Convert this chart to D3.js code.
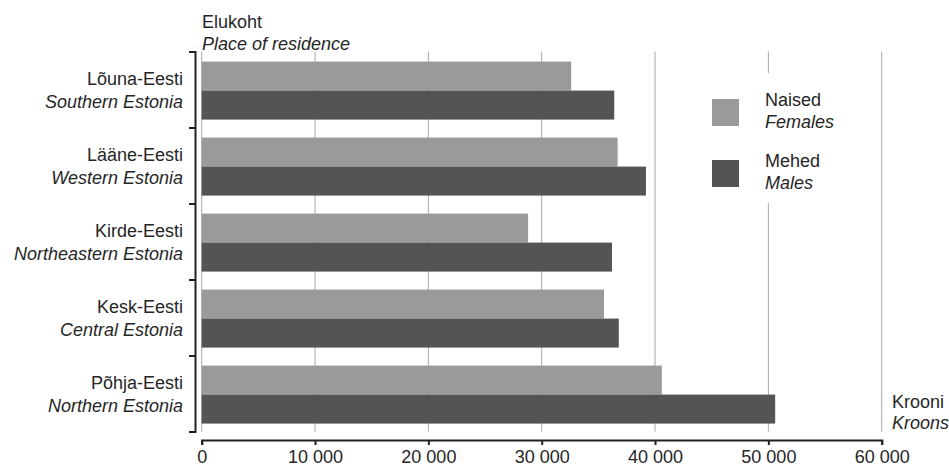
<!DOCTYPE html>
<html>
<head>
<meta charset="utf-8">
<script src="https://cdn.jsdelivr.net/npm/d3@7"></script>
<style>
  html, body { margin: 0; padding: 0; background: #fff; }
  svg { display: block; }
  text { font-family: "Liberation Sans", Arial, sans-serif; fill: #262626; }
</style>
</head>
<body>
<svg id="chart" width="949" height="466"></svg>
<script>
// ---- data ----
const categoriesEt = ["Lõuna-Eesti", "Lääne-Eesti", "Kirde-Eesti", "Kesk-Eesti", "Põhja-Eesti"];
const categoriesEn = ["Southern Estonia", "Western Estonia", "Northeastern Estonia", "Central Estonia", "Northern Estonia"];
const females = [32600, 36700, 28800, 35500, 40600];
const males   = [36400, 39200, 36200, 36800, 50600];
const seriesKeys = ["f", "m"];
const seriesEt = ["Naised", "Mehed"];
const seriesEn = ["Females", "Males"];
const xTicks = [0, 10000, 20000, 30000, 40000, 50000, 60000];
const yTitleEt = "Elukoht", yTitleEn = "Place of residence";
const unitEt = "Krooni", unitEn = "Kroons";

// ---- layout ----
const colors = { f: "#9a9a9a", m: "#545454" };
const svg = d3.select("#chart");
const x0 = 201.7, x1 = 881.7, yTop = 51.5, yBot = 431.5;

const x = d3.scaleLinear().domain([0, 60000]).range([x0, x1]);
const y = d3.scaleBand().domain(categoriesEt).range([yTop, yBot])
  .paddingInner(18 / 76).paddingOuter(9 / 76).align(0.56);
const ySub = d3.scaleBand().domain(seriesKeys).range([0, y.bandwidth()]).padding(0);
const yEdge = d3.scaleLinear().domain([0, categoriesEt.length]).range([yTop, yBot]);

const fmt = d3.formatLocale({ decimal: ",", thousands: " ", grouping: [3], currency: ["", ""] }).format(",");

// gridlines
svg.append("g").selectAll("line").data(xTicks).join("line")
  .attr("x1", d => x(d)).attr("x2", d => x(d))
  .attr("y1", yTop).attr("y2", yBot)
  .attr("stroke", "#a8a8a8").attr("stroke-width", 1);

// bars
const rows = categoriesEt.map((c, i) => ({ cat: c, f: females[i], m: males[i] }));
const gRows = svg.append("g").selectAll("g").data(rows).join("g")
  .attr("transform", d => `translate(0,${y(d.cat)})`);
gRows.selectAll("rect").data(d => seriesKeys.map(k => ({ k, v: d[k] }))).join("rect")
  .attr("x", x(0))
  .attr("y", d => ySub(d.k))
  .attr("width", d => x(d.v) - x(0))
  .attr("height", ySub.bandwidth())
  .attr("fill", d => colors[d.k]);

// legend (white backdrop hides gridline)
const lg = svg.append("g");
lg.append("rect").attr("x", 700).attr("y", 73).attr("width", 165).attr("height", 130).attr("fill", "#fff");
const legendY = [99, 160];
seriesKeys.forEach((k, i) => {
  lg.append("rect").attr("x", 712).attr("y", legendY[i]).attr("width", 27).attr("height", 27).attr("fill", colors[k]);
  lg.append("text").attr("x", 765).attr("y", legendY[i] + 6.5).style("font-size", "18px").text(seriesEt[i]);
  lg.append("text").attr("x", 765).attr("y", legendY[i] + 28.5).style("font-size", "18px").style("font-style", "italic").text(seriesEn[i]);
});

// y axis (bracket-like ticks at category boundaries)
const yAxis = d3.axisLeft(yEdge).tickValues(d3.range(categoriesEt.length + 1))
  .tickSize(6).tickSizeOuter(6).tickFormat("");
svg.append("g").attr("transform", "translate(195,0)").call(yAxis)
  .call(g => g.selectAll("path,line").attr("stroke", "#222").attr("stroke-width", 2));

// category labels
const catLab = svg.append("g").selectAll("g").data(categoriesEt).join("g")
  .attr("transform", d => `translate(183,${y(d) - 9 + 76 / 2})`);
catLab.append("text").attr("text-anchor", "end").attr("y", -6).style("font-size", "18px").text(d => d);
catLab.append("text").attr("text-anchor", "end").attr("y", 17).style("font-size", "18px")
  .style("font-style", "italic").text((d, i) => categoriesEn[i]);

// x axis
const xAxis = d3.axisBottom(x).tickValues(xTicks).tickSize(5).tickSizeOuter(5).tickPadding(5).tickFormat(fmt);
svg.append("g").attr("transform", "translate(0,440)").call(xAxis)
  .call(g => g.selectAll("path,line").attr("stroke", "#222").attr("stroke-width", 2))
  .call(g => g.selectAll("text").style("font-size", "18px").attr("fill", "#262626")
    .style("font-family", "'Liberation Sans', Arial, sans-serif"));

// axis titles
svg.append("text").attr("x", 202).attr("y", 28).style("font-size", "18px").text(yTitleEt);
svg.append("text").attr("x", 202).attr("y", 49.5).style("font-size", "18px").style("font-style", "italic").text(yTitleEn);
svg.append("text").attr("x", 892).attr("y", 408).style("font-size", "18px").text(unitEt);
svg.append("text").attr("x", 892).attr("y", 429).style("font-size", "18px").style("font-style", "italic").text(unitEn);
</script>
</body>
</html>
